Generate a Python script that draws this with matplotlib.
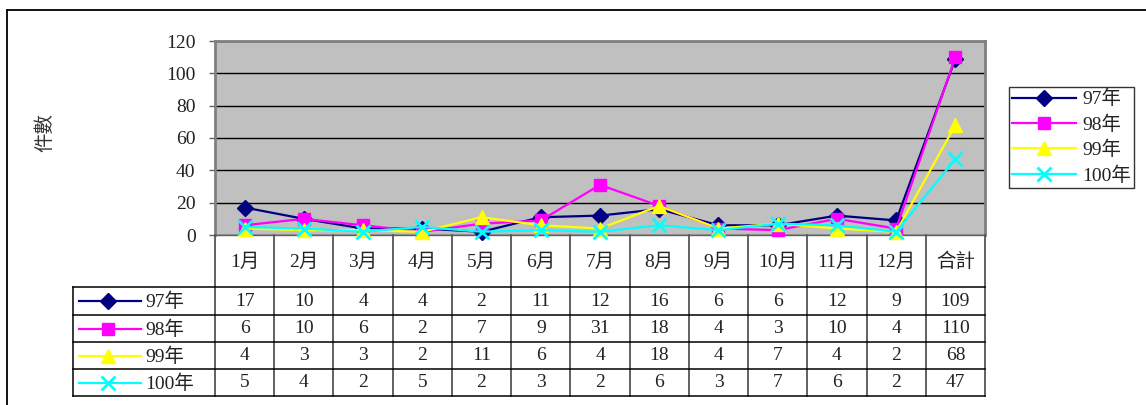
import matplotlib
matplotlib.use("Agg")
import matplotlib.pyplot as plt
from matplotlib.lines import Line2D
from matplotlib import transforms

plt.rcParams['font.family'] = ['Liberation Serif', 'Noto Sans CJK TC', 'DejaVu Sans']
plt.rcParams['text.color'] = '#222222'
plt.rcParams['ytick.labelcolor'] = '#222222'

categories = ['1月', '2月', '3月', '4月', '5月', '6月', '7月', '8月', '9月', '10月', '11月', '12月', '合計']
series_names = ['97年', '98年', '99年', '100年']
v97 = [17, 10, 4, 4, 2, 11, 12, 16, 6, 6, 12, 9, 109]
v98 = [6, 10, 6, 2, 7, 9, 31, 18, 4, 3, 10, 4, 110]
v99 = [4, 3, 3, 2, 11, 6, 4, 18, 4, 7, 4, 2, 68]
v100 = [5, 4, 2, 5, 2, 3, 2, 6, 3, 7, 6, 2, 47]
yticks = [0, 20, 40, 60, 80, 100, 120]
ylabel = '件數'

series = [v97, v98, v99, v100]
colors = ['#000080', '#FF00FF', '#FFFF00', '#00FFFF']
markers = ['D', 's', '^', 'x']
msizes = [8, 8, 10, 10]

W, H = 1146, 405
fig = plt.figure(figsize=(W / 100, H / 100), dpi=100)

def fx(p):
    return p / W

def fy(p):
    return 1 - p / H

L, R, T, B = 215, 985, 41, 235
ax = fig.add_axes([fx(L), fy(B), fx(R - L), (B - T) / H])
ax.set_facecolor('#C0C0C0')
x = list(range(len(categories)))
handles = []
for vals, c, m, ms, name in zip(series, colors, markers, msizes, series_names):
    h, = ax.plot(x, vals, color=c, marker=m, markersize=ms, linewidth=1.6,
                 markeredgewidth=2 if m == 'x' else 1, markeredgecolor=c,
                 label=name, clip_on=False, zorder=3)
    handles.append(h)
ax.set_xlim(-0.5, len(categories) - 0.5)
ax.set_ylim(0, 120)
ax.set_yticks(yticks)
ax.set_yticklabels([str(t) for t in yticks], fontsize=14)
ax.yaxis.grid(True, color='black', linewidth=1)
ax.set_axisbelow(True)
ax.set_xticks([])
ax.tick_params(axis='y', direction='out', length=4, width=1, color='#606060', pad=10)
for s in ax.spines.values():
    s.set_color('#808080')
    s.set_linewidth(2)
ax.spines['bottom'].set_color('#606060')
ax.spines['bottom'].set_linewidth(1)

fig.text(fx(45), fy(132), ylabel, rotation=90, ha='center', va='center', fontsize=14, color='#333333')

# data table
tr = transforms.blended_transform_factory(ax.transData, fig.transFigure)
row_edges = [235, 287, 315, 342, 369, 396]
for k in range(len(categories) + 1):
    fig.add_artist(Line2D([k - 0.5, k - 0.5], [fy(235), fy(396)], transform=tr,
                          color='#555555', linewidth=1.3))
for p in row_edges[1:]:
    fig.add_artist(Line2D([fx(73), fx(R)], [fy(p), fy(p)], transform=fig.transFigure,
                          color='black', linewidth=1.1))
fig.add_artist(Line2D([fx(73), fx(73)], [fy(287), fy(396)], transform=fig.transFigure,
                      color='black', linewidth=1.1))
for i, cat in enumerate(categories):
    fig.text(i, fy(262), cat, transform=tr, ha='center', va='center', fontsize=14)
for r, (vals, c, m, ms, name) in enumerate(zip(series, colors, markers, msizes, series_names)):
    yc = (row_edges[r + 1] + row_edges[r + 2]) / 2
    for i, v in enumerate(vals):
        fig.text(i, fy(yc), str(v), transform=tr, ha='center', va='center', fontsize=14)
    fig.add_artist(Line2D([fx(79), fx(141)], [fy(yc), fy(yc)], transform=fig.transFigure,
                          color=c, linewidth=1.6))
    fig.add_artist(Line2D([fx(108)], [fy(yc)], transform=fig.transFigure, color=c,
                          marker=m, markersize=ms, markeredgecolor=c,
                          markeredgewidth=2 if m == 'x' else 1, linestyle='none'))
    fig.text(fx(145), fy(yc + 1), name, ha='left', va='center', fontsize=14)

leg = fig.legend(handles=handles, loc='upper left', bbox_to_anchor=(fx(1009), fy(87)),
                 fontsize=14, frameon=True, fancybox=False, handlelength=3.3,
                 borderpad=0.15, labelspacing=0.36, handletextpad=0.3, borderaxespad=0)
leg.get_frame().set_edgecolor('black')
leg.get_frame().set_linewidth(1)

fig.add_artist(Line2D([fx(7), fx(W + 5)], [fy(10), fy(10)], transform=fig.transFigure, color='black', linewidth=1.3))
fig.add_artist(Line2D([fx(7), fx(7)], [fy(10), fy(H + 5)], transform=fig.transFigure, color='black', linewidth=1.3))

fig.savefig('out.png', dpi=100)
